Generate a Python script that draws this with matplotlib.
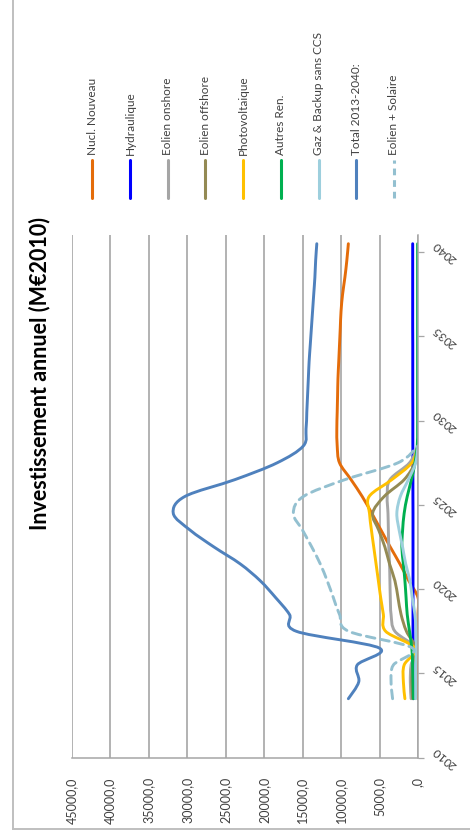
import numpy as np
import matplotlib
matplotlib.use("Agg")
import matplotlib.pyplot as plt
from matplotlib.path import Path
from matplotlib.patches import PathPatch
from matplotlib.lines import Line2D
from matplotlib.transforms import blended_transform_factory

plt.rcParams['font.family'] = ['Lato', 'DejaVu Sans']

nan = float("nan")

# Annual investment per technology, M€2010
years = list(range(2013, 2041))

nucl_nouveau = [0, 0, 0, 0, 0, 0, 0, 1200, 2350, 3600, 4800, 6000, 7250, 8700,
                10200, 10500, 10550, 10500, 10450, 10400, 10300, 10200, 10100,
                10000, 9800, 9500, 9250, 9050]
hydraulique = [620, 620, 630, 640, 650, 650, 650, 650, 650, 650, 650, 650, 660,
               660, 660, 670, 670, 670, 680, 680, 680, 680, 690, 690, 690, 690,
               690, 690]
eolien_onshore = [900, 1000, 900, 300, 3000, 3500, 3600, 3650, 3700, 3800, 3850,
                  3900, 4000, 3650, 1100, 0] + [nan] * 12
eolien_offshore = [700, 800, 700, 300, 1500, 2200, 2600, 3000, 3700, 4300, 5100,
                   5900, 4400, 1800, 400, 0] + [nan] * 12
photovoltaique = [1700, 1900, 1800, 400, 4200, 4500, 4850, 5150, 5450, 5750, 6050,
                  6300, 6350, 3400, 800, 0] + [nan] * 12
autres_ren = [600, 650, 700, 800, 1100, 1400, 1550, 1700, 1900, 2100, 2000, 1800,
              1400, 850, 400, 100, 50, 50, 50, 50, 50, 50, 50, 50, 50, 50, 50, 50]
gaz_backup = [300, 300, 300, 200, 250, 400, 750, 1050, 1600, 2000, 2450, 2750,
              2300, 1250, 300, 0] + [nan] * 12
total = [9050, 7700, 7900, 5000, 15800, 16700, 18500, 20500, 23100, 26500, 29600,
         31800, 30300, 23800, 18300, 14900, 14550, 14450, 14350, 14250, 14150,
         14000, 13850, 13700, 13550, 13400, 13300, 13150]
eolien_solaire = [3300, 3500, 3200, 700, 9000, 10200, 11000, 11800, 12700, 13800,
                  15000, 16200, 14900, 9500, 2600, 0] + [nan] * 12

series = [
    ("Nucl. Nouveau", nucl_nouveau, "#E46C0A", "solid"),
    ("Hydraulique", hydraulique, "#0000FF", "solid"),
    ("Eolien onshore", eolien_onshore, "#A5A5A5", "solid"),
    ("Eolien offshore", eolien_offshore, "#948A54", "solid"),
    ("Photovoltaique", photovoltaique, "#FFC000", "solid"),
    ("Autres Ren.", autres_ren, "#00B050", "solid"),
    ("Gaz & Backup sans CCS", gaz_backup, "#9DCFDD", "solid"),
    ("Total 2013-2040:", total, "#4F81BD", "solid"),
    ("Eolien + Solaire", eolien_solaire, "#93C0D0", "dashed"),
]

value_ticks = list(range(0, 45001, 5000))
value_labels = [",0"] + [f"{v},0" for v in value_ticks[1:]]
year_ticks = list(range(2010, 2041, 5))
title = "Investissement annuel (M€2010)"


def smooth_path(xv, yv):
    """Catmull-Rom spline through the points, as cubic Bezier segments."""
    pts = np.column_stack([xv, yv]).astype(float)
    pts = pts[np.isfinite(pts).all(axis=1)]
    n = len(pts)
    verts = [pts[0]]
    codes = [Path.MOVETO]
    for i in range(n - 1):
        p0 = pts[max(i - 1, 0)]
        p1 = pts[i]
        p2 = pts[i + 1]
        p3 = pts[min(i + 2, n - 1)]
        c1 = p1 + (p2 - p0) / 6.0
        c2 = p2 - (p3 - p1) / 6.0
        verts += [c1, c2, p2]
        codes += [Path.CURVE4] * 3
    return Path(verts, codes)


W, H = 470, 836
fig = plt.figure(figsize=(W / 100, H / 100), dpi=100)
fig.patch.set_facecolor("white")

# plot area: value axis runs horizontally (reversed), years run upwards
x_left, x_right = 71.7, 418.0
y_bot, y_top = 757.7, 235.3
ax = fig.add_axes([x_left / W, 1 - y_bot / H, (x_right - x_left) / W, (y_bot - y_top) / H])
ax.set_xlim(45000, 0)
ax.set_ylim(2010, 2041)

ax.set_xticks(value_ticks)
ax.set_xticklabels(value_labels, rotation=90, ha="center", va="top",
                   fontsize=9, color="#404040")
ax.tick_params(axis="x", length=0, pad=14)
ax.xaxis.grid(True, color="#A6A6A6", lw=1.2)
ax.set_axisbelow(True)

ax.set_yticks(year_ticks)
ax.yaxis.tick_right()
ax.tick_params(axis="y", length=4, width=0.9, color="#A6A6A6", direction="out",
               labelright=False, labelleft=False)

for side in ("top", "left"):
    ax.spines[side].set_visible(False)
for side in ("bottom", "right"):
    ax.spines[side].set_color("#A6A6A6")
    ax.spines[side].set_linewidth(1.1)

# year labels, tilted, centred beside each tick
trans = blended_transform_factory(ax.transAxes, ax.transData)
for yr in year_ticks:
    ax.text(1 + 27 / (x_right - x_left), yr, str(yr), transform=trans,
            rotation=140, rotation_mode="anchor", ha="center", va="center",
            fontsize=8.5, color="#404040")

ypos = np.array(years) + 0.5  # points sit at the centre of each year slot
for name, vals, color, ls in series:
    path = smooth_path(vals, ypos)
    if ls == "dashed":
        style = (0, (3.0, 2.0))
    else:
        style = "solid"
    ax.add_patch(PathPatch(path, facecolor="none", edgecolor=color, lw=2.1,
                           linestyle=style, capstyle="round", joinstyle="round"))

# title
fig.text(40 / W, 1 - 374 / H, title, rotation=90, ha="center", va="center",
         fontsize=15.5, fontweight="bold", color="black")

# legend, one column per series
for i, (name, vals, color, ls) in enumerate(series):
    lx = (92.3 + i * 37.7) / W
    style = (0, (2.2, 1.6)) if ls == "dashed" else "solid"
    fig.add_artist(Line2D([lx, lx], [1 - 198 / H, 1 - 160 / H], color=color,
                          lw=2.2, linestyle=style, solid_capstyle="round",
                          dash_capstyle="butt"))
    fig.text(lx, 1 - 155 / H, name, rotation=90, ha="center", va="bottom",
             fontsize=8.5, color="#404040")

# chart frame
fig.add_artist(Line2D([13 / W, 13 / W], [1 - 829 / H, 1.0], color="#BFBFBF", lw=1.4))
fig.add_artist(Line2D([13 / W, 1.0], [1 - 829 / H, 1 - 829 / H], color="#BFBFBF", lw=1.4))

fig.savefig("out.png", dpi=100, facecolor="white")
